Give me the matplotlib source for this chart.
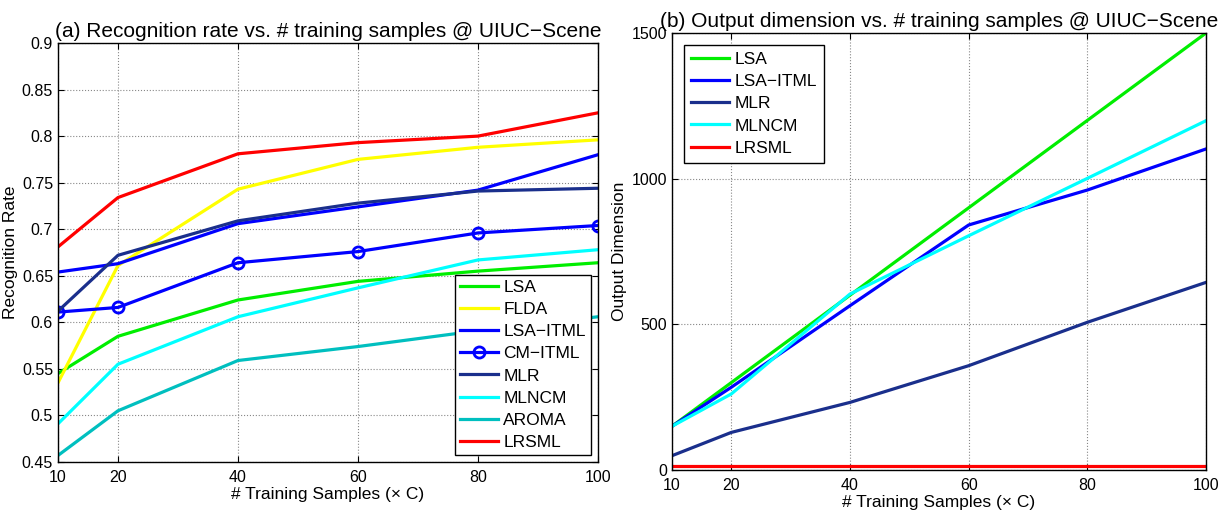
import matplotlib
matplotlib.use("Agg")
import matplotlib.pyplot as plt

plt.rcParams['font.family'] = ['Liberation Sans', 'DejaVu Sans']

# Training samples per class
samples = [10, 20, 40, 60, 80, 100]

# (a) recognition rate per method
rate_lsa = [0.545, 0.585, 0.624, 0.644, 0.655, 0.664]
rate_flda = [0.535, 0.661, 0.743, 0.775, 0.788, 0.796]
rate_lsa_itml = [0.654, 0.663, 0.706, 0.724, 0.742, 0.780]
rate_cm_itml = [0.611, 0.616, 0.664, 0.676, 0.696, 0.704]
rate_mlr = [0.612, 0.672, 0.709, 0.728, 0.741, 0.744]
rate_mlncm = [0.491, 0.555, 0.606, 0.637, 0.667, 0.678]
rate_aroma = [0.457, 0.505, 0.559, 0.574, 0.591, 0.606]
rate_lrsml = [0.681, 0.734, 0.781, 0.793, 0.800, 0.825]

# (b) output dimension per method
dim_lsa = [150, 300, 600, 900, 1200, 1500]
dim_lsa_itml = [150, 284, 564, 841, 961, 1102]
dim_mlr = [49, 129, 232, 358, 507, 644]
dim_mlncm = [150, 261, 604, 804, 1001, 1199]
dim_lrsml = [15, 15, 15, 15, 15, 15]

GREEN = '#00ee00'
YELLOW = '#ffff00'
BLUE = '#0000ff'
NAVY = '#1a2f8c'
CYAN = '#00ffff'
TEAL = '#00bfbf'
RED = '#ff0000'

LW = 2.3
xlabel = '# Training Samples (\u00d7 C)'

fig = plt.figure(figsize=(12.28, 5.15), dpi=100)
ax_a = fig.add_axes([0.0472, 0.1029, 0.4397, 0.8136])
ax_b = fig.add_axes([0.5472, 0.0874, 0.4349, 0.8485])


def matlab_axis(ax):
    ax.grid(True, linestyle=':', color='#888888', linewidth=0.8)
    ax.tick_params(direction='in', top=True, right=True, labelsize=11.5, length=4)
    ax.tick_params(axis='x', pad=6)
    for sp in ax.spines.values():
        sp.set_linewidth(1.0)
    ax.set_xticks(samples)
    ax.set_xlim(10, 100)


# ---- (a) recognition rate ----
ax_a.plot(samples, rate_lsa, color=GREEN, lw=LW, label='LSA')
ax_a.plot(samples, rate_flda, color=YELLOW, lw=LW, label='FLDA')
ax_a.plot(samples, rate_lsa_itml, color=BLUE, lw=LW, label='LSA\u2212ITML')
ax_a.plot(samples, rate_cm_itml, color=BLUE, lw=LW, marker='o', ms=8,
          mfc='none', mew=2, label='CM\u2212ITML')
ax_a.plot(samples, rate_mlr, color=NAVY, lw=LW, label='MLR')
ax_a.plot(samples, rate_mlncm, color=CYAN, lw=LW, label='MLNCM')
ax_a.plot(samples, rate_aroma, color=TEAL, lw=LW, label='AROMA')
ax_a.plot(samples, rate_lrsml, color=RED, lw=LW, label='LRSML')
matlab_axis(ax_a)
ax_a.set_ylim(0.45, 0.9)
ax_a.set_yticks([0.45, 0.5, 0.55, 0.6, 0.65, 0.7, 0.75, 0.8, 0.85, 0.9])
ax_a.set_yticklabels(['0.45', '0.5', '0.55', '0.6', '0.65', '0.7', '0.75', '0.8', '0.85', '0.9'])
ax_a.set_xlabel(xlabel, fontsize=12.5, labelpad=1)
ax_a.set_ylabel('Recognition Rate', fontsize=12.5, labelpad=3)
ax_a.set_title('(a) Recognition rate vs. # training samples @ UIUC\u2212Scene',
               fontsize=15, pad=4)
leg = ax_a.legend(loc='lower right', fontsize=12.5, fancybox=False, framealpha=1,
                  edgecolor='black', handlelength=2.2, borderpad=0.3,
                  labelspacing=0.4, handletextpad=0.3, borderaxespad=0.4)
leg.get_frame().set_linewidth(1.0)

# ---- (b) output dimension ----
ax_b.plot(samples, dim_lsa, color=GREEN, lw=LW, label='LSA')
ax_b.plot(samples, dim_lsa_itml, color=BLUE, lw=LW, label='LSA\u2212ITML')
ax_b.plot(samples, dim_mlr, color=NAVY, lw=LW, label='MLR')
ax_b.plot(samples, dim_mlncm, color=CYAN, lw=LW, label='MLNCM')
ax_b.plot(samples, dim_lrsml, color=RED, lw=LW, label='LRSML')
matlab_axis(ax_b)
ax_b.set_ylim(0, 1500)
ax_b.set_yticks([0, 500, 1000, 1500])
ax_b.set_xlabel(xlabel, fontsize=12.5, labelpad=1)
ax_b.set_ylabel('Output Dimension', fontsize=12.5, labelpad=3)
ax_b.set_title('(b) Output dimension vs. # training samples @ UIUC\u2212Scene',
               fontsize=15, pad=4)
leg = ax_b.legend(loc='upper left', fontsize=12.5, fancybox=False, framealpha=1,
                  edgecolor='black', handlelength=2.2, borderpad=0.4,
                  labelspacing=0.4, handletextpad=0.3, borderaxespad=0.7)
leg.get_frame().set_linewidth(1.0)

fig.savefig('out.png', dpi=100)
